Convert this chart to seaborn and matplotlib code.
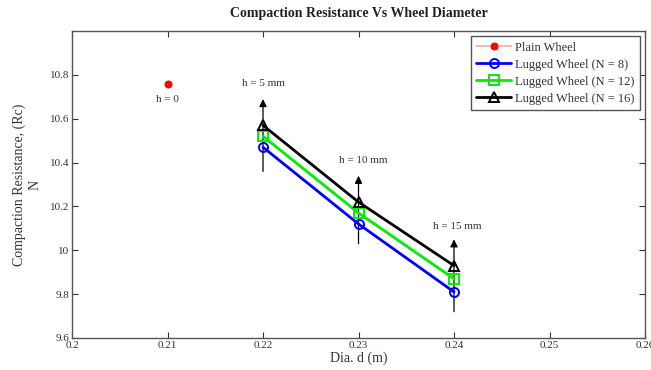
import matplotlib
matplotlib.use("Agg")
import matplotlib.pyplot as plt
import seaborn as sns
import pandas as pd

diam = [0.22, 0.23, 0.24]
n8 = [10.47, 10.12, 9.81]
n12 = [10.52, 10.17, 9.87]
n16 = [10.57, 10.22, 9.93]
plain_x = [0.21]
plain_y = [10.76]
arrow_base = [10.36, 10.03, 9.72]
arrow_tip = [10.69, 10.34, 10.05]
h_labels = ["h = 5 mm", "h = 10 mm", "h = 15 mm"]
h_label_x = [0.22, 0.2305, 0.2403]
h_label_y = [10.76, 10.41, 10.11]
xticks = [0.2, 0.21, 0.22, 0.23, 0.24, 0.25, 0.26]
xticklabels = ["0.2", "0.21", "0.22", "0.23", "0.24", "0.25", "0.26"]
yticks = [9.6, 9.8, 10.0, 10.2, 10.4, 10.6, 10.8]
yticklabels = ["9.6", "9.8", "10", "10.2", "10.4", "10.6", "10.8"]

sns.set_style("white")
plt.rcParams["font.family"] = ["Liberation Serif", "DejaVu Serif"]

fig = plt.figure(figsize=(6.51, 3.70), dpi=100)
ax = fig.add_axes([0.1106, 0.0865, 0.8802, 0.8295])

df_plain = pd.DataFrame({"d": plain_x, "R": plain_y})
sns.lineplot(data=df_plain, x="d", y="R", ax=ax, color="#ffaaaa", marker="o",
             markersize=5, markerfacecolor="red", markeredgecolor="red",
             linewidth=1.2, label="Plain Wheel")

series = [(n8, "blue", "o", "Lugged Wheel (N = 8)"),
          (n12, "#00ee00", "s", "Lugged Wheel (N = 12)"),
          (n16, "black", "^", "Lugged Wheel (N = 16)")]
for vals, col, mk, lab in series:
    df = pd.DataFrame({"d": diam, "R": vals})
    sns.lineplot(data=df, x="d", y="R", ax=ax, color=col, marker=mk,
                 markersize=6.5, markerfacecolor="none", markeredgecolor=col,
                 markeredgewidth=1.4, linewidth=2, label=lab)

for x, b, t in zip(diam, arrow_base, arrow_tip):
    ax.annotate("", xy=(x, t), xytext=(x, b),
                arrowprops=dict(arrowstyle="-|>", color="black", lw=0.9,
                                mutation_scale=11, shrinkA=0, shrinkB=0),
                zorder=1)

for s, x, y in zip(h_labels, h_label_x, h_label_y):
    ax.text(x, y, s, ha="center", va="center", fontsize=8, color="#333333")
ax.text(0.21, 10.69, "h = 0", ha="center", va="center", fontsize=8, color="#333333")

ax.set_xlim(0.2, 0.26)
ax.set_ylim(9.6, 11.0)
ax.set_xticks(xticks)
ax.set_xticklabels(xticklabels)
ax.set_yticks(yticks)
ax.set_yticklabels(yticklabels)
ax.tick_params(direction="in", length=4, labelsize=8, colors="#333333",
               top=True, right=True, bottom=True, left=True, pad=2)
for sp in ax.spines.values():
    sp.set_color("#555555")
    sp.set_linewidth(1.0)

ax.set_xlabel("Dia. d (m)", fontsize=10, color="#333333", labelpad=1)
ax.set_ylabel("Compaction Resistance, (Rc)\nN", fontsize=10, color="#333333",
              labelpad=6, linespacing=1.25)
ax.set_title("Compaction Resistance Vs Wheel Diameter", fontsize=10,
             fontweight="bold", color="#222222", pad=10)

leg = ax.legend(loc="upper right", fontsize=9, frameon=True, fancybox=False,
                edgecolor="#555555", framealpha=1, borderaxespad=0.4,
                handlelength=2.8, labelspacing=0.4, borderpad=0.45,
                handletextpad=0.3)
leg.get_frame().set_linewidth(1.0)
for t in leg.get_texts():
    t.set_color("#333333")

fig.savefig("out.png", dpi=100)
